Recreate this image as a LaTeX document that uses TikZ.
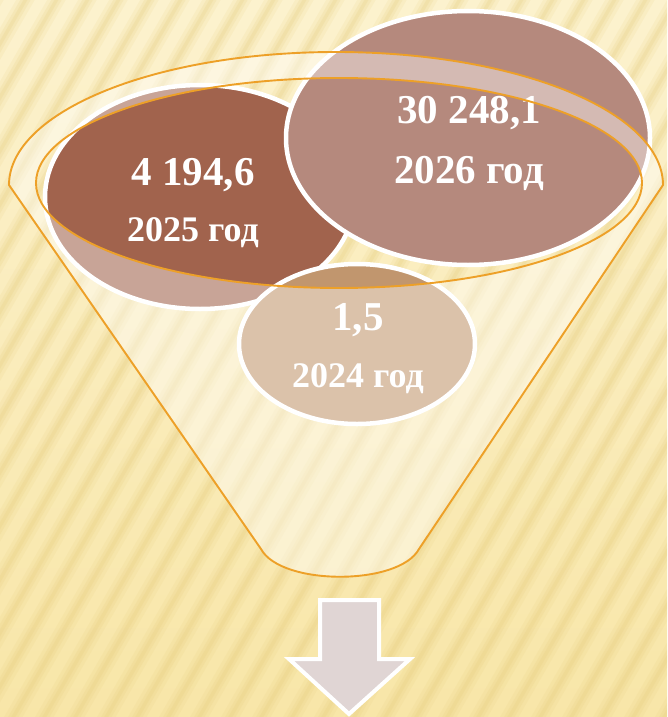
\documentclass[tikz,border=0pt]{standalone}
\usepackage{fontspec}
\setmainfont{Liberation Serif}
\usetikzlibrary{shapes.geometric}
\definecolor{bgtop}{RGB}{252,242,206}
\definecolor{bgbot}{RGB}{248,230,168}
\definecolor{stripec}{RGB}{228,202,120}
\definecolor{cA}{RGB}{161,99,77}
\definecolor{cB}{RGB}{181,137,125}
\definecolor{cC}{RGB}{193,150,110}
\definecolor{rim}{RGB}{237,160,40}
\definecolor{arrowc}{RGB}{224,213,212}
\begin{document}
\begin{tikzpicture}[x=1pt,y=-1pt,
  bubble/.style={ellipse, draw=white, line width=4.5pt, inner sep=0pt},
  bigtxt/.style={anchor=base, text=white, font=\bfseries\fontsize{41}{41}\selectfont},
  smalltxt/.style={anchor=base, text=white, font=\bfseries\fontsize{36}{36}\selectfont},
  stripeA/.style={draw=stripec, line width=16pt, opacity=0.12},
  stripeB/.style={draw=stripec, line width=9pt, opacity=0.16},
  stripeC/.style={draw=stripec, line width=3.5pt, opacity=0.18},
  funnelline/.style={draw=rim, line width=1.9pt},
  arrowshape/.style={fill=arrowc, draw=white, line width=4pt, line join=miter}]
\useasboundingbox (0,0) rectangle (667,717);
\begin{scope}
\clip (0,0) rectangle (667,717);
\fill[bgtop] (0,0) rectangle (667,717);
\shade[top color=bgtop, bottom color=bgbot] (0,0) rectangle (667,717);
\foreach \i in {-16,...,23} {
  \draw[stripeA] ({\i*31},740) -- ({\i*31+440},-20);
  \draw[stripeB] ({\i*31},740) -- ({\i*31+440},-20);
  \draw[stripeC] ({\i*31},740) -- ({\i*31+440},-20);
}
\end{scope}
% bubbles
\node[bubble, fill=cA, minimum width=310pt, minimum height=224pt] (b2025) at (200,197) {};
\node[bubble, fill=cB, minimum width=364pt, minimum height=254pt] (b2026) at (468,138) {};
\node[bubble, fill=cC, minimum width=236pt, minimum height=160pt] (b2024) at (357,344) {};
\node[bigtxt] (v2025) at (193,185) {4 194,6};
\node[smalltxt] (y2025) at (193,241) {2025 год};
\node[bigtxt] (v2026) at (469,123) {30 248,1};
\node[bigtxt] (y2026) at (469,183) {2026 год};
\node[bigtxt] (v2024) at (358,330) {1,5};
\node[smalltxt] (y2024) at (358,387) {2024 год};
% funnel
\fill[white, fill opacity=0.42, even odd rule]
  (9,185) arc[start angle=180, end angle=360, x radius=327, y radius=133]
  -- (419,549) .. controls (399,586) and (281,586) .. (261,549) -- cycle
  (339,183) ellipse[x radius=303, y radius=105];
\draw[funnelline, line join=round]
  (9,185) arc[start angle=180, end angle=360, x radius=327, y radius=133]
  -- (419,549) .. controls (399,586) and (281,586) .. (261,549) -- cycle;
\draw[funnelline] (339,183) ellipse[x radius=303, y radius=105];
% arrow
\begin{scope}
\clip (0,0) rectangle (667,717);
\draw[arrowshape] (320,600) -- (379,600) -- (379,659) -- (410,659) -- (349,714) -- (289,659) -- (320,659) -- cycle;
\end{scope}
\end{tikzpicture}
\end{document}
